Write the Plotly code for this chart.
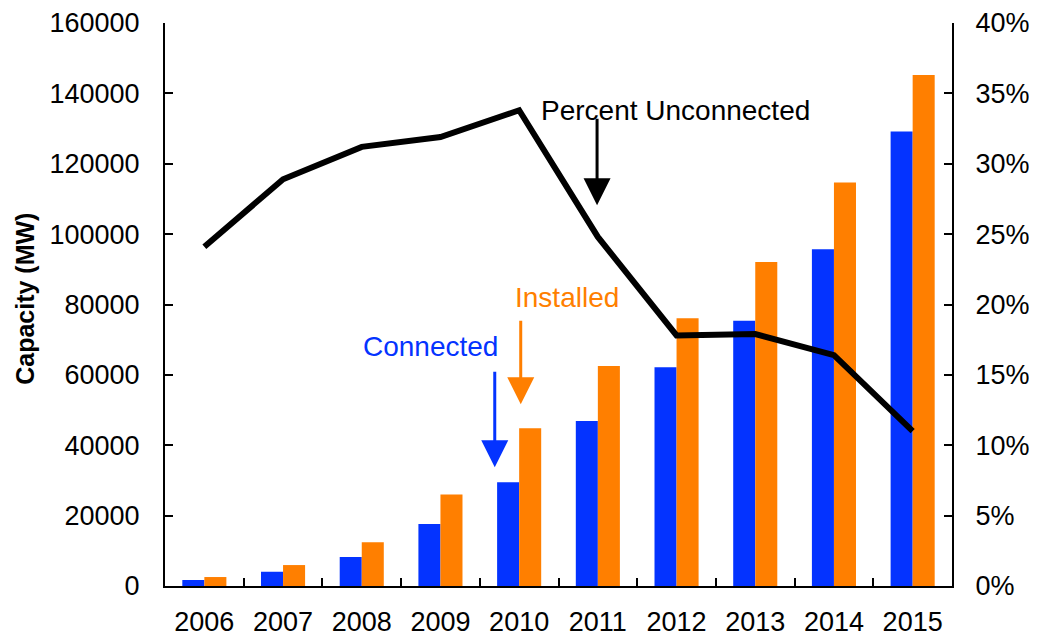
import plotly.graph_objects as go

years = ["2006", "2007", "2008", "2009", "2010", "2011", "2012", "2013", "2014", "2015"]
connected_mw = [1700, 4050, 8250, 17600, 29500, 46900, 62200, 75400, 95700, 129200]
installed_mw = [2550, 5950, 12400, 26000, 44800, 62500, 76100, 92100, 114700, 145200]
pct_unconnected = [24.1, 28.9, 31.2, 31.9, 33.8, 24.8, 17.8, 17.9, 16.4, 11.0]

left_ticks = [0, 20000, 40000, 60000, 80000, 100000, 120000, 140000, 160000]
right_ticks = [0, 5, 10, 15, 20, 25, 30, 35, 40]
right_labels = [f"{v}%" for v in right_ticks]

BLUE = "#0433FF"
ORANGE = "#FF7F00"
FONT = "Liberation Sans, Arial, sans-serif"

fig = go.Figure()
fig.add_trace(go.Bar(x=years, y=connected_mw, name="Connected", marker_color=BLUE, marker_line_width=0))
fig.add_trace(go.Bar(x=years, y=installed_mw, name="Installed", marker_color=ORANGE, marker_line_width=0))
fig.add_trace(go.Scatter(x=years, y=pct_unconnected, name="Percent Unconnected", yaxis="y2",
                         mode="lines", line=dict(color="black", width=6)))

axis_common = dict(showgrid=False, zeroline=False, showline=True, linecolor="black", linewidth=2,
                   ticks="inside", ticklen=8, tickwidth=2, tickcolor="black", automargin=False,
                   tickfont=dict(family=FONT, size=27, color="black"))

# the page body adds an 8px offset, so margins are shifted accordingly
fig.update_layout(
    width=1037, height=638,
    margin=dict(l=157, r=93, t=15, b=60),
    paper_bgcolor="white", plot_bgcolor="white",
    barmode="group", bargap=0.44, bargroupgap=0,
    showlegend=False,
    font=dict(family=FONT, color="black"),
    xaxis=dict(**axis_common, type="category", tickson="boundaries", ticklabelstandoff=11),
    yaxis=dict(**axis_common, range=[0, 160000], tickvals=left_ticks, ticktext=[str(v) for v in left_ticks],
               ticklabelstandoff=18),
    yaxis2=dict(**axis_common, overlaying="y", side="right", range=[0, 40], tickvals=right_ticks,
                ticktext=right_labels, ticklabelstandoff=16),
)

# y-axis title
fig.add_annotation(text="<b>Capacity (MW)</b>", xref="paper", yref="paper", x=-0.178, y=0.51,
                   xanchor="center", yanchor="middle",
                   textangle=-90, showarrow=False, font=dict(family=FONT, size=25, color="black"))

# Text labels
fig.add_annotation(text="Percent Unconnected", xref="paper", yref="paper", x=0.649, y=0.875,
                   showarrow=False, font=dict(family=FONT, size=28, color="black"))
fig.add_annotation(text="Installed", xref="paper", yref="paper", x=0.511, y=0.513,
                   showarrow=False, font=dict(family=FONT, size=28, color=ORANGE))
fig.add_annotation(text="Connected", xref="paper", yref="paper", x=0.337, y=0.426,
                   showarrow=False, font=dict(family=FONT, size=28, color=BLUE))

# Arrows
for x, y, length, color in [(0.549, 0.6764, 88, "black"), (0.452, 0.323, 85, ORANGE), (0.419, 0.211, 97, BLUE)]:
    fig.add_annotation(text="", xref="paper", yref="paper", x=x, y=y, ax=0, ay=-length,
                       showarrow=True, arrowhead=2, arrowsize=1.8, arrowwidth=3, arrowcolor=color)

fig.write_html("out.html")
